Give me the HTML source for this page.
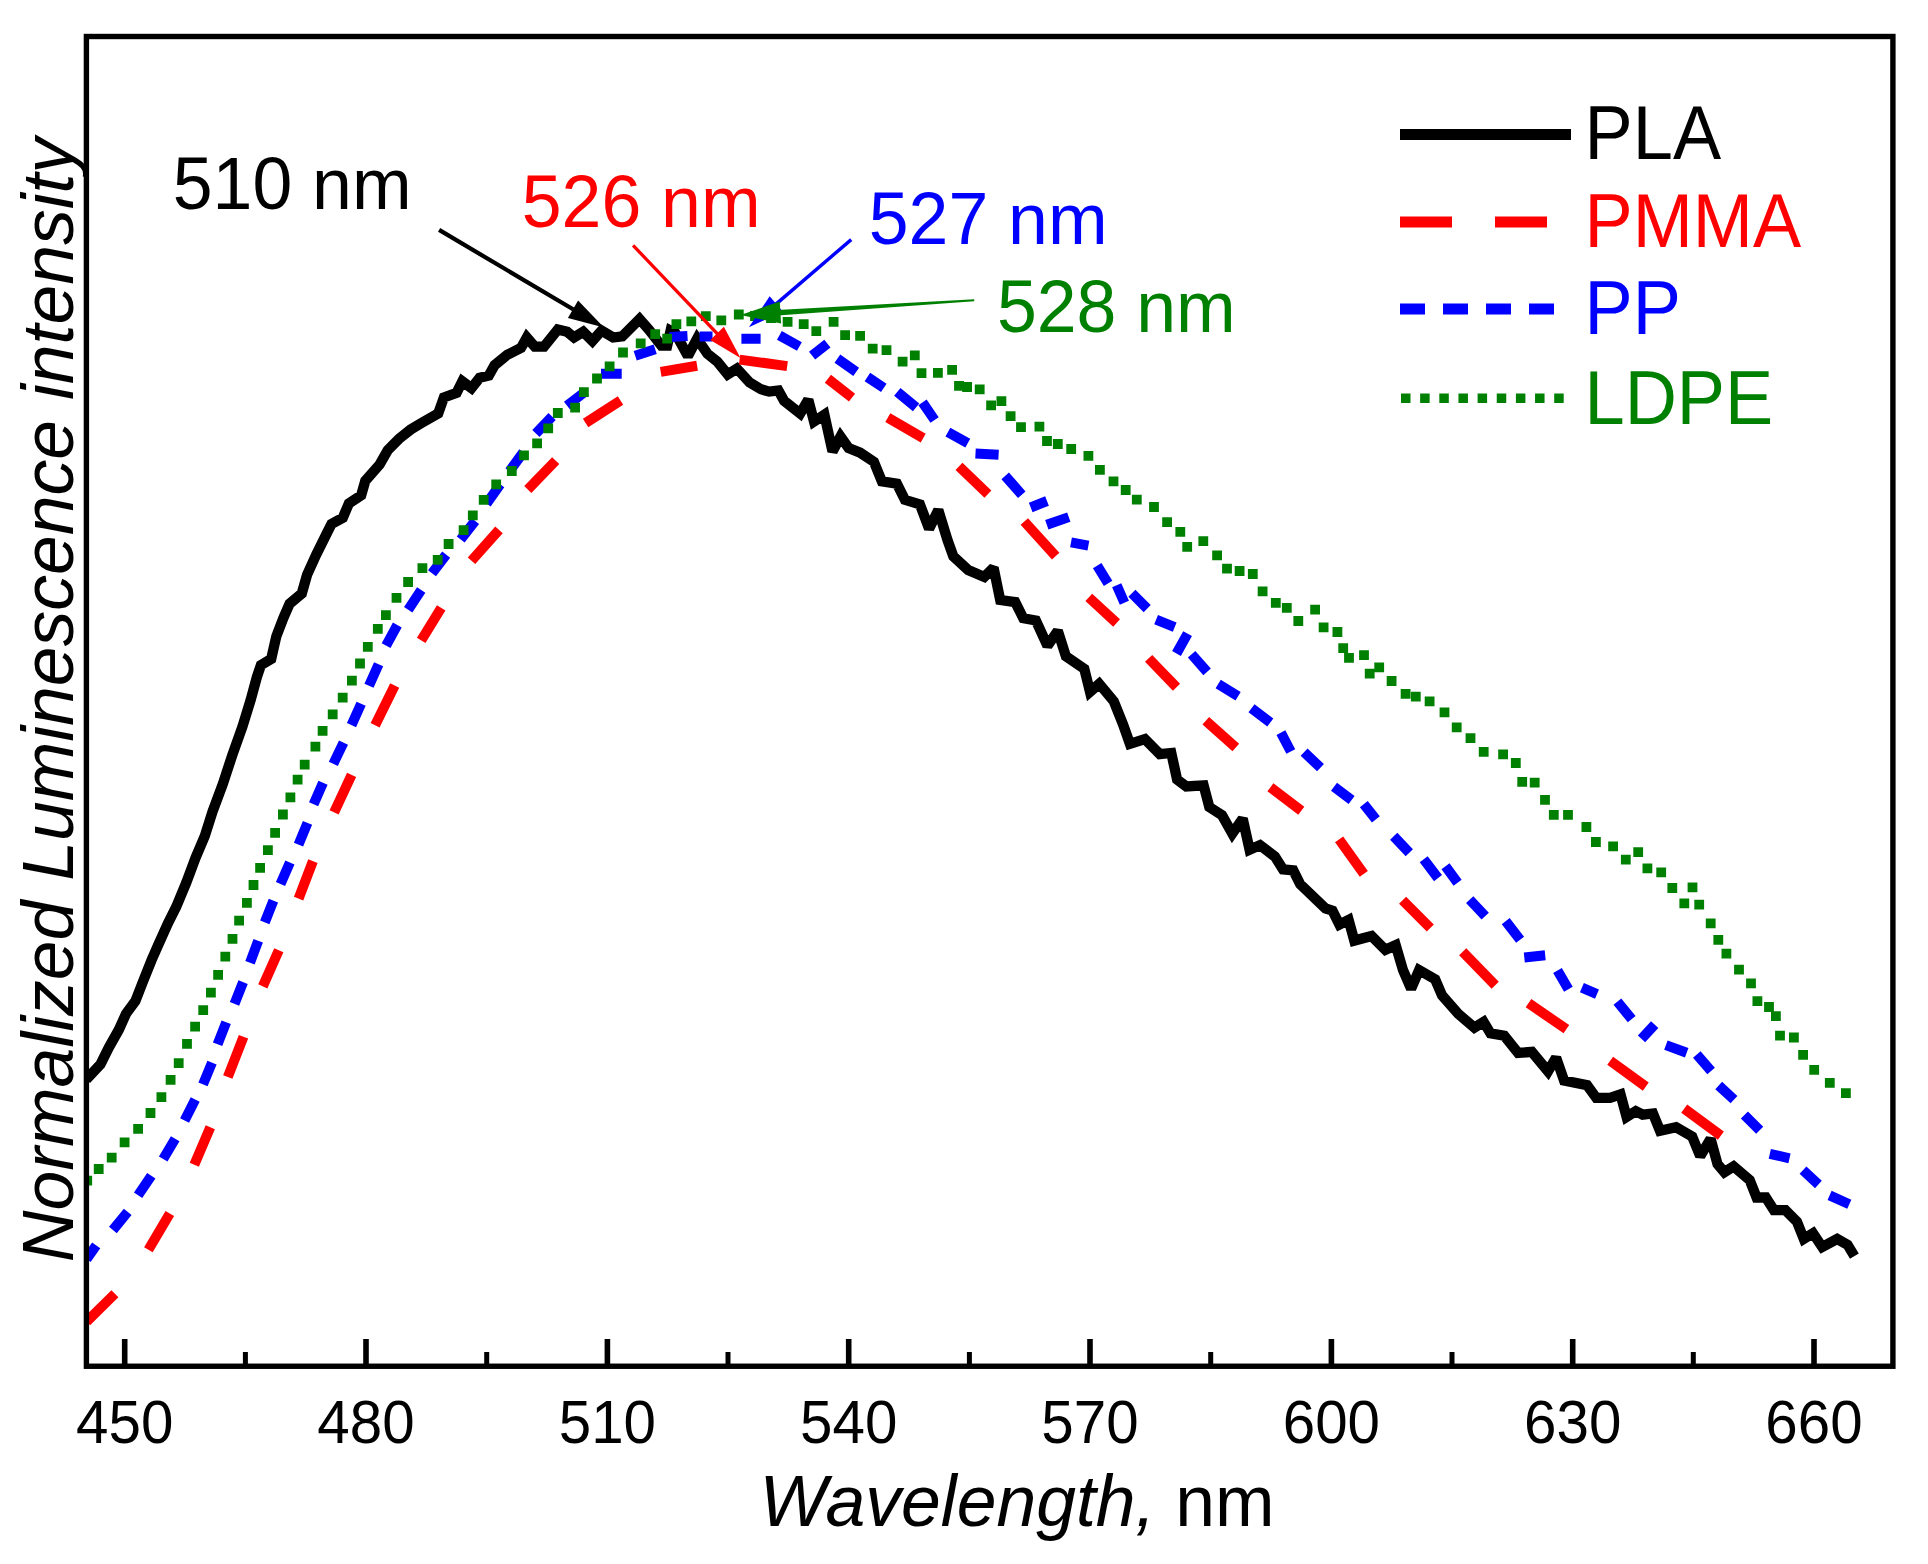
<!DOCTYPE html><html><head><meta charset="utf-8"><title>Luminescence spectra</title><style>html,body{margin:0;padding:0;background:#fff}svg{display:block}</style></head><body><svg width="1928" height="1564" viewBox="0 0 1928 1564"><rect width="1928" height="1564" fill="#fff"/><defs><clipPath id="c"><rect x="86.6" y="36.5" width="1806.4" height="1329.5"/></clipPath></defs><g clip-path="url(#c)" fill="none" stroke-linejoin="miter" stroke-miterlimit="2"><path d="M86.3 1079.5L100.5 1064.4L108.6 1048L118.9 1029.6L126 1013.8L135.4 1001L143.4 980.5L151.6 960L158.8 943.7L168 923.2L176.2 906.9L186.4 882.3L195.6 857.7L204.8 836L212.6 811.5L222.8 784L232.3 755.1L242.5 726.4L250.7 699.8L256.8 677.3L260.9 665.1L271.2 658.9L276.3 636.4L283.4 618L289.6 603.7L301.8 593.5L307 575L316.2 554.6L326.4 534.1L331.5 523.9L342.8 517.8L348.9 503.4L361.2 495.2L365.3 480.9L379.6 464.6L387.8 450.2L399 438.8L410.6 429.6L422.1 422.7L438.2 413.5L443.9 397.4L456.6 392.8L462.3 381.3L471.5 388.2L479.6 377.8L488.8 375.5L494.6 365.2L507.2 354.8L521 347.9L526.8 337.5L534.8 346.7L544 346.7L557.8 329.5L567.1 331.8L574 337.5L583.2 331.8L592.4 341L601.6 330.6L613.1 337.5L622.3 336.4L639.6 319.1L648.8 329.5L661.4 345.6L667.2 345.6L670.6 330.6L675.2 332.9L687.9 356L697.1 338.7L707.4 353.7L717.4 361.7L727.7 374.4L736.9 368.6L749.6 382.4L761.1 389.3L769.2 391.6L778.4 390.5L784.1 400.8L800.2 413.5L808.3 399.7L814 421.5L824.4 414.6L832.5 451.5L840.5 436.5L848.6 448L860.1 452.6L873.9 461.8L881.9 481.4L896.9 483.7L904.9 499.8L919.9 504.4L929.1 528.6L938.3 510.1L947.5 540.1L953.3 556.2L968.2 570L984.3 576.9L993.6 567.7L1000.2 600L1015.2 602.1L1023.3 618.2L1035.9 620.5L1047.5 645.8L1057.8 630.9L1065.9 656.2L1084.3 668.8L1090 691.9L1099.2 683.8L1113.8 701.3L1123 724.3L1129.9 743.8L1144.9 739.2L1159.8 754.2L1171.3 753L1177.1 779.5L1186.3 786.4L1203.6 785.3L1209.3 807.1L1222 815.2L1232.3 833.6L1242.7 818.6L1249.6 849.7L1260 845.1L1274.9 856.6L1283 869.3L1293.3 870.4L1300.2 884.2L1325.5 908.4L1332.5 910.7L1339.4 924.5L1348.6 919.9L1354.3 940.6L1371.6 936L1385.4 949.8L1395.7 945.2L1403 970.1L1411.1 988.6L1419.1 970.1L1435.2 979.4L1442.1 995.5L1458.3 1013.9L1474.4 1027.7L1483.6 1021.9L1490.5 1033.4L1504.3 1035.7L1518.1 1053L1531.9 1051.9L1548 1071.4L1556.1 1057.6L1564.1 1080.6L1587.1 1085.2L1596.3 1097.9L1610.1 1097.9L1620.5 1094.4L1626.6 1116.9L1635.8 1111.2L1642.7 1114.6L1653 1113.5L1660 1130.7L1676.1 1127.3L1692.2 1136.5L1700.2 1156.1L1710.6 1138.8L1717.5 1164.1L1724.4 1172.2L1733.6 1166.4L1749.7 1180.2L1756.6 1197.5L1765.8 1197.5L1773.9 1210.1L1785.4 1210.1L1796.9 1221.7L1803.8 1238.9L1813 1233.2L1822.2 1247L1837.2 1238.9L1847.5 1244.7L1854.4 1256.2" stroke="#000" stroke-width="10.3" stroke-linecap="butt"/><path d="M86.6 1321.6L114.9 1293.8M148.4 1249.8L169.8 1213.5M194.3 1164.8L210.3 1127.3M227.8 1077L243.5 1036.7M262.8 986.4L278.8 950.3M298.6 898.6L312.9 861.1M334.1 812.3L351.6 774.8M375.1 725.2L394.7 685.5M421.2 640.3L441.2 607.8M471.5 560.8L499 529.9M527.8 489.5L555.7 460.6M585.6 423L620.5 400.5M660.7 371.9L697.1 365.8M739.6 359.6L787.2 366.1M827.9 378.7L852 397.6M887.8 417.6L923.2 438.1M959 466.3L987.9 494.2M1024.3 521.5L1055.7 556.1M1088.8 597.3L1116.6 623M1148.6 658.4L1176.5 687.3M1205.8 720.7L1235.8 747.4M1270.4 787.3L1301.3 810.8M1339.1 839.4L1363.8 873.8M1402.6 900.3L1430.3 928M1462.7 951.7L1495.2 985.2M1528.5 1003.2L1566.4 1029.2M1610.2 1060.8L1645.8 1086.6M1684.2 1108.6L1720.9 1135.6" stroke="#f00" stroke-width="10"/><path d="M86.6 1259L96.2 1245.4M112.9 1230L127.7 1211.8M138.1 1195.2L151.3 1175.8M163.2 1159L175.2 1138.8M184.6 1120.6L195.2 1099.6M203 1084.3L212 1062.7M217.6 1044.2L226.2 1022.2M234.5 1003.9L243.1 982.1M250 962.8L258.2 940.8M264.8 922.4L273.4 900.6M280.5 884L289.9 862.4M298.5 844.7L307.5 822.9M313.6 804.3L323 782.7M333.3 763.8L343.5 742.6M351.5 725.1L361.1 703.7M369 685.7L378.6 664.3M386.1 645.6L397.3 625M408.2 609.7L421.2 590.1M432 573.2L446.2 554.6M460.7 539.5L475.1 520.9M486.6 503.6L500.2 484.4M509.5 471.3L523.3 452.3M535.9 433.5L552.1 416.5M567 405.6L585.6 391.4M601 373.8L621.7 373.8M635.2 355.8L655.2 349.2M669.5 337L687.5 336M699.5 336.5L712.5 336.5M741.4 338.7L760.6 338.7M779.4 335.4L799.4 346.5M812.1 355.7L827.4 343.6M837.4 358.6L856.2 371.8M867.4 377L883.8 387.9M897.3 391.9L916.1 407.4M922.5 402.4L934.6 420M947.9 432.1L967.8 443.2M975.5 453.6L998.6 454.8M1005.2 475.9L1021.8 494.7M1030.7 507.5L1047 501M1046.8 524.8L1068.8 517.1M1071 542.4L1088.4 545.6M1097.2 565.7L1108.1 583.3M1116.7 585.3L1124.4 602.7M1131.9 593.3L1147.2 608.6M1156.1 619.6L1174.7 627.2M1187.6 633.6L1176.5 653.5M1191.6 654.3L1207.1 671.9M1218.2 684.1L1238.1 696.2M1251.5 708.3L1270.3 722.6M1280.9 732.7L1290.8 751.5M1304.1 752.2L1320.5 767.7M1334 786.7L1351.6 799.9M1363.8 804.1L1375.9 819.4M1393.7 836.3L1409.3 852.8M1423.7 859.3L1438 878.1M1445.5 866.2L1457.6 882.7M1469.7 899.6L1485.2 916.1M1505.7 921.1L1520.1 939.8M1524.3 957.4L1545.2 955.3M1557.5 970.5L1568.4 989.3M1581.9 987.6L1597 994.1M1617.4 1001.6L1631.7 1019.2M1641.5 1038.8L1654.7 1024.6M1665.9 1045.1L1686.7 1052.8M1696.8 1054.5L1711.1 1071M1718.7 1085.5L1734 1099.7M1744.4 1115L1759.7 1130.3M1769.8 1153.9L1789.5 1158.3M1803 1170.2L1818.4 1184.5M1829.6 1195.4L1849.3 1204.2" stroke="#00f" stroke-width="10"/><path d="M82.3 1175.7h9.8v9.8h-9.8zM93.8 1164.1h9.8v9.8h-9.8zM106.8 1152.7h9.8v9.8h-9.8zM119.7 1137.4h9.8v9.8h-9.8zM133.2 1123.9h9.8v9.8h-9.8zM145.6 1108.1h9.8v9.8h-9.8zM156.5 1092.2h9.8v9.8h-9.8zM165.7 1075h9.8v9.8h-9.8zM173.8 1058.3h9.8v9.8h-9.8zM182.1 1039h9.8v9.8h-9.8zM190.2 1021.7h9.8v9.8h-9.8zM198.3 1005.3h9.8v9.8h-9.8zM206 987.8h9.8v9.8h-9.8zM213.2 969.9h9.8v9.8h-9.8zM220.4 951.8h9.8v9.8h-9.8zM227.6 933.9h9.8v9.8h-9.8zM234.2 915.8h9.8v9.8h-9.8zM242 898h9.8v9.8h-9.8zM248.6 880.1h9.8v9.8h-9.8zM255.2 862.9h9.8v9.8h-9.8zM263 845.3h9.8v9.8h-9.8zM270.2 828h9.8v9.8h-9.8zM278 809.6h9.8v9.8h-9.8zM285.5 792.4h9.8v9.8h-9.8zM292.7 774.8h9.8v9.8h-9.8zM299.8 759.8h9.8v9.8h-9.8zM310.5 741.7h9.8v9.8h-9.8zM317.7 725.9h9.8v9.8h-9.8zM327.8 709.5h9.8v9.8h-9.8zM337.8 692.8h9.8v9.8h-9.8zM347 675.8h9.8v9.8h-9.8zM355.1 658.6h9.8v9.8h-9.8zM362.9 641.9h9.8v9.8h-9.8zM372.9 624h9.8v9.8h-9.8zM381 610.2h9.8v9.8h-9.8zM391.6 592.9h9.8v9.8h-9.8zM403.2 577.1h9.8v9.8h-9.8zM417.5 563.3h9.8v9.8h-9.8zM432.8 555h9.8v9.8h-9.8zM443.7 539.1h9.8v9.8h-9.8zM458.7 525.3h9.8v9.8h-9.8zM467.9 510.4h9.8v9.8h-9.8zM478.8 494.9h9.8v9.8h-9.8zM491.3 479.5h9.8v9.8h-9.8zM506.9 466.1h9.8v9.8h-9.8zM519.1 450.5h9.8v9.8h-9.8zM532.2 438.5h9.8v9.8h-9.8zM543.3 423.5h9.8v9.8h-9.8zM552.9 408.1h9.8v9.8h-9.8zM570.2 402.8h9.8v9.8h-9.8zM579 387.2h9.8v9.8h-9.8zM592.1 373.6h9.8v9.8h-9.8zM604.7 361.4h9.8v9.8h-9.8zM618.1 347.6h9.8v9.8h-9.8zM635.8 338.4h9.8v9.8h-9.8zM650.3 329.2h9.8v9.8h-9.8zM662.3 333.8h9.8v9.8h-9.8zM671.5 319.3h9.8v9.8h-9.8zM686.4 316.5h9.8v9.8h-9.8zM700.9 311.2h9.8v9.8h-9.8zM716.4 315.4h9.8v9.8h-9.8zM733.9 309.6h9.8v9.8h-9.8zM750.1 311.1h9.8v9.8h-9.8zM766.1 313.1h9.8v9.8h-9.8zM782.7 317h9.8v9.8h-9.8zM798.8 319.3h9.8v9.8h-9.8zM811.4 326.2h9.8v9.8h-9.8zM828.7 317h9.8v9.8h-9.8zM840.2 330.3h9.8v9.8h-9.8zM855.2 331h9.8v9.8h-9.8zM867.8 343.7h9.8v9.8h-9.8zM881.6 345.3h9.8v9.8h-9.8zM897.7 356.8h9.8v9.8h-9.8zM909.9 350.4h9.8v9.8h-9.8zM916.6 368.3h9.8v9.8h-9.8zM933 367.9h9.8v9.8h-9.8zM947.2 364.9h9.8v9.8h-9.8zM954.1 381h9.8v9.8h-9.8zM962.2 382.1h9.8v9.8h-9.8zM974.8 384.4h9.8v9.8h-9.8zM986.2 400.4h9.8v9.8h-9.8zM996.5 396.3h9.8v9.8h-9.8zM1005.7 411.2h9.8v9.8h-9.8zM1016.1 422.3h9.8v9.8h-9.8zM1034.5 421.8h9.8v9.8h-9.8zM1042.1 436.1h9.8v9.8h-9.8zM1052.9 439.1h9.8v9.8h-9.8zM1066.3 444.1h9.8v9.8h-9.8zM1083.5 451h9.8v9.8h-9.8zM1095 464.9h9.8v9.8h-9.8zM1108.6 476.4h9.8v9.8h-9.8zM1120.8 485.1h9.8v9.8h-9.8zM1131.9 494.8h9.8v9.8h-9.8zM1149.1 502.1h9.8v9.8h-9.8zM1162.2 517.3h9.8v9.8h-9.8zM1175.4 527h9.8v9.8h-9.8zM1182.3 542h9.8v9.8h-9.8zM1198.4 536.2h9.8v9.8h-9.8zM1212.2 550.5h9.8v9.8h-9.8zM1222.1 563.8h9.8v9.8h-9.8zM1234.7 566.1h9.8v9.8h-9.8zM1247.9 569.1h9.8v9.8h-9.8zM1257.7 586.4h9.8v9.8h-9.8zM1270.9 597.9h9.8v9.8h-9.8zM1281.9 602.9h9.8v9.8h-9.8zM1293.4 616.1h9.8v9.8h-9.8zM1310.2 604.8h9.8v9.8h-9.8zM1318.7 622.5h9.8v9.8h-9.8zM1332.5 627.1h9.8v9.8h-9.8zM1338.3 643.2h9.8v9.8h-9.8zM1344.1 652.9h9.8v9.8h-9.8zM1359.1 650.3h9.8v9.8h-9.8zM1364.8 668.7h9.8v9.8h-9.8zM1374.3 662.5h9.8v9.8h-9.8zM1386.7 676.1h9.8v9.8h-9.8zM1400.7 689h9.8v9.8h-9.8zM1410.9 691.8h9.8v9.8h-9.8zM1424.7 696.4h9.8v9.8h-9.8zM1439.6 707.4h9.8v9.8h-9.8zM1451.8 722.4h9.8v9.8h-9.8zM1465.6 733.2h9.8v9.8h-9.8zM1478.8 747h9.8v9.8h-9.8zM1498.2 749.4h9.8v9.8h-9.8zM1510.9 758.1h9.8v9.8h-9.8zM1517.3 777h9.8v9.8h-9.8zM1529.8 777.7h9.8v9.8h-9.8zM1540.1 794.9h9.8v9.8h-9.8zM1548.9 809.9h9.8v9.8h-9.8zM1563.1 809.9h9.8v9.8h-9.8zM1581.5 822.1h9.8v9.8h-9.8zM1591 837.1h9.8v9.8h-9.8zM1608.2 841.4h9.8v9.8h-9.8zM1620.9 854.8h9.8v9.8h-9.8zM1633.3 847.2h9.8v9.8h-9.8zM1642.5 863.5h9.8v9.8h-9.8zM1656.3 867.4h9.8v9.8h-9.8zM1667.4 883.1h9.8v9.8h-9.8zM1679.4 898.5h9.8v9.8h-9.8zM1687.6 882.4h9.8v9.8h-9.8zM1694.3 899.7h9.8v9.8h-9.8zM1705.8 918.5h9.8v9.8h-9.8zM1713.4 934.9h9.8v9.8h-9.8zM1721.5 948.7h9.8v9.8h-9.8zM1734.1 964.8h9.8v9.8h-9.8zM1746.1 978.4h9.8v9.8h-9.8zM1752.5 996.3h9.8v9.8h-9.8zM1764.1 1002.1h9.8v9.8h-9.8zM1771 1011.3h9.8v9.8h-9.8zM1775.1 1030.8h9.8v9.8h-9.8zM1789 1032.6h9.8v9.8h-9.8zM1798.2 1049.9h9.8v9.8h-9.8zM1809.3 1064.9h9.8v9.8h-9.8zM1824.9 1078h9.8v9.8h-9.8zM1841 1088.3h9.8v9.8h-9.8z" fill="#008000" stroke="none"/></g><rect x="86.4" y="36.5" width="1806.5" height="1329.75" fill="none" stroke="#000" stroke-width="5.4"/><path d="M124.7 1364V1339M366 1364V1339M607.4 1364V1339M848.7 1364V1339M1090 1364V1339M1331.4 1364V1339M1572.7 1364V1339M1814 1364V1339" stroke="#000" stroke-width="5.6" fill="none"/><path d="M245.4 1364V1352M486.7 1364V1352M728 1364V1352M969.4 1364V1352M1210.7 1364V1352M1452 1364V1352M1693.3 1364V1352" stroke="#000" stroke-width="5" fill="none"/><g font-family="Liberation Sans, Arial, sans-serif"><text transform="translate(124.7 1442.6) scale(1 1.04)" font-size="58.3" fill="#000" text-anchor="middle">450</text><text transform="translate(366 1442.6) scale(1 1.04)" font-size="58.3" fill="#000" text-anchor="middle">480</text><text transform="translate(607.4 1442.6) scale(1 1.04)" font-size="58.3" fill="#000" text-anchor="middle">510</text><text transform="translate(848.7 1442.6) scale(1 1.04)" font-size="58.3" fill="#000" text-anchor="middle">540</text><text transform="translate(1090 1442.6) scale(1 1.04)" font-size="58.3" fill="#000" text-anchor="middle">570</text><text transform="translate(1331.4 1442.6) scale(1 1.04)" font-size="58.3" fill="#000" text-anchor="middle">600</text><text transform="translate(1572.7 1442.6) scale(1 1.04)" font-size="58.3" fill="#000" text-anchor="middle">630</text><text transform="translate(1814 1442.6) scale(1 1.04)" font-size="58.3" fill="#000" text-anchor="middle">660</text><text transform="translate(1017 1526) scale(1 1.02)" font-size="71.5" fill="#000" text-anchor="middle"><tspan font-style="italic">Wavelength,</tspan> nm</text><text transform="translate(72.5 700) rotate(-90) scale(1 1.02)" font-size="71.5" fill="#000" text-anchor="middle" font-style="italic">Normalized Luminescence intensity</text><text transform="translate(172.8 208.6) scale(1 1.04)" font-size="71.6" fill="#000" text-anchor="start">510</text><text transform="translate(312.1 208.6)" font-size="71.6" fill="#000" text-anchor="start">nm</text><text transform="translate(521.8 227.3) scale(1 1.04)" font-size="71.6" fill="#f00" text-anchor="start">526</text><text transform="translate(661.1 227.3)" font-size="71.6" fill="#f00" text-anchor="start">nm</text><text transform="translate(868.8 244) scale(1 1.04)" font-size="71.6" fill="#00f" text-anchor="start">527</text><text transform="translate(1008.1 244)" font-size="71.6" fill="#00f" text-anchor="start">nm</text><text transform="translate(997 331.6) scale(1 1.04)" font-size="71.6" fill="#008000" text-anchor="start">528</text><text transform="translate(1136.3 331.6)" font-size="71.6" fill="#008000" text-anchor="start">nm</text><text transform="translate(1584.6 159.4) scale(1 1.04)" font-size="72.2" fill="#000" text-anchor="start">PLA</text><text transform="translate(1584.6 246.8) scale(1 1.04)" font-size="72.2" fill="#f00" text-anchor="start">PMMA</text><text transform="translate(1584.6 334) scale(1 1.04)" font-size="72.2" fill="#00f" text-anchor="start">PP</text><text transform="translate(1584.6 423.5) scale(1 1.04)" font-size="72.2" fill="#008000" text-anchor="start">LDPE</text></g><path d="M1400 134.5H1571" stroke="#000" stroke-width="11" stroke-linecap="butt"/><path d="M1400 222H1452M1495 222H1547" stroke="#f00" stroke-width="11"/><path d="M1400 309H1425M1443 309H1468M1486 309H1511M1529 309H1554" stroke="#00f" stroke-width="11"/><path d="M1401 398.3H1571" stroke="#008000" stroke-width="9.5" stroke-dasharray="9.5 9.65"/><path d="M438 231.7L574.5 312.6L576.7 309L440.2 228.1z" fill="#000"/><path d="M604 327.6L567.9 317.9L578.1 300.6z" fill="#000"/><path d="M631.9 246.5L717.9 336.7L720.3 334.5L634.3 244.3z" fill="#f00"/><path d="M740.5 358L710.2 340L723.9 326.8z" fill="#f00"/><path d="M850.1 238.3L772.8 304.5L775.1 307.2L852.3 240.9z" fill="#00f"/><path d="M748.9 327.3L769.7 296.3L782.7 311.5z" fill="#00f"/><path d="M974.1 299.3L777.3 309.9L777.6 315.4L974.3 301.3z" fill="#008000"/><path d="M740.5 315L779.7 301.5L781.1 323.5z" fill="#008000"/></svg></body></html>
